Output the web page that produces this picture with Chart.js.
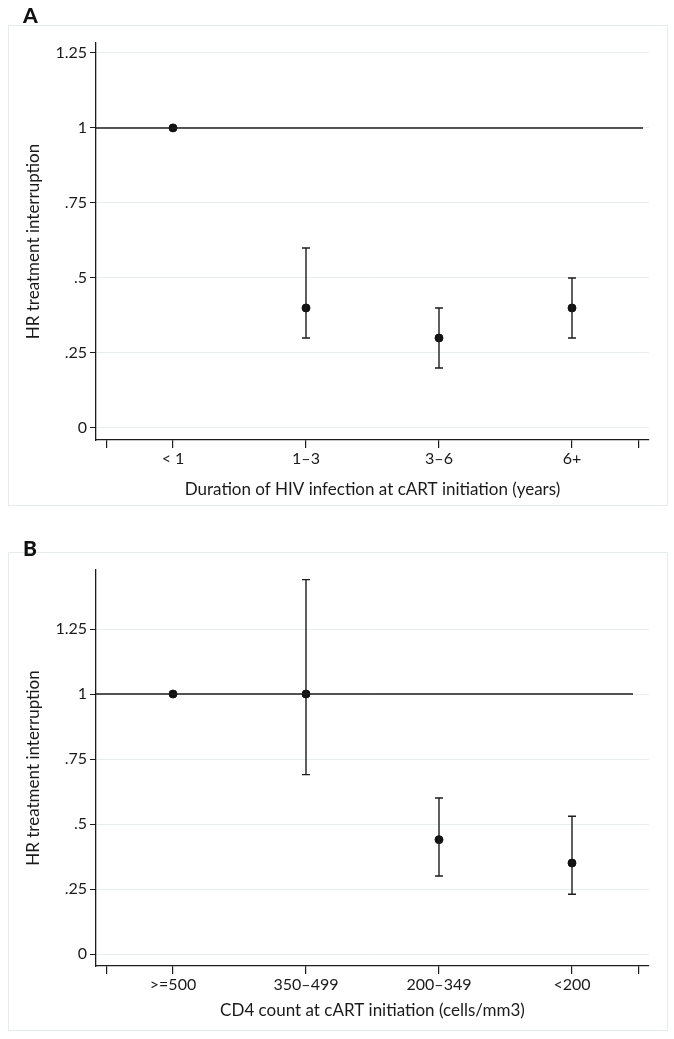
<!DOCTYPE html>
<html>
<head>
<meta charset="utf-8">
<script src="https://cdn.jsdelivr.net/npm/chart.js@4/dist/chart.umd.min.js"></script>
<style>
  body { margin: 0; background: #fff; }
  .panel { position: absolute; left: 8px; width: 658px; border: 1px solid #e6ebeb; }
  .tag { position: absolute; left: 23px; z-index: 2; font: 900 21px Lato, sans-serif; color: #111; }
  canvas { display: block; }
</style>
</head>
<body>
<div class="panel" style="top:25px;height:479px"><canvas id="chartA" width="658" height="479"></canvas></div>
<div class="panel" style="top:552px;height:477px"><canvas id="chartB" width="658" height="477"></canvas></div>
<div class="tag" style="top:2px">A</div>
<div class="tag" style="top:535px">B</div>
<script>
// panel A data
const catsA = ['< 1', '1–3', '3–6', '6+'];
const hrA = [1, 0.4, 0.3, 0.4];
const loA = [null, 0.3, 0.2, 0.3];
const hiA = [null, 0.6, 0.4, 0.5];

// panel B data
const catsB = ['>=500', '350–499', '200–349', '<200'];
const hrB = [1, 1, 0.44, 0.35];
const loB = [null, 0.69, 0.3, 0.23];
const hiB = [null, 1.44, 0.6, 0.53];

const yTicks = [0, 0.25, 0.5, 0.75, 1, 1.25];
const yTickLabels = ['0', '.25', '.5', '.75', '1', '1.25'];
const xTickPos = [0.5, 1, 2, 3, 4, 4.5];

const ink = '#1c1c1c';
const font = 'Lato, sans-serif';

// draws the confidence intervals with caps
const errorBars = {
  id: 'errorBars',
  afterDatasetsDraw(chart, args, opts) {
    const { ctx, scales: { x, y } } = chart;
    ctx.save();
    ctx.strokeStyle = ink;
    ctx.lineWidth = 1.4;
    opts.lo.forEach((lo, i) => {
      const hi = opts.hi[i];
      if (lo === null || hi === null) return;
      const px = x.getPixelForValue(i + 1);
      const pLo = y.getPixelForValue(lo);
      const pHi = y.getPixelForValue(hi);
      ctx.beginPath();
      ctx.moveTo(px, pLo); ctx.lineTo(px, pHi);
      ctx.moveTo(px - 4, pLo); ctx.lineTo(px + 4, pLo);
      ctx.moveTo(px - 4, pHi); ctx.lineTo(px + 4, pHi);
      ctx.stroke();
    });
    ctx.restore();
  }
};

function makeChart(id, cats, hr, lo, hi, xTitle, yMin, yMax, refEnd, xAxisH, titlePad) {
  const xMin = 0.421, xMax = 4.579;
  new Chart(document.getElementById(id), {
    type: 'scatter',
    data: {
      datasets: [
        {
          type: 'line',
          data: [{ x: xMin, y: 1 }, { x: refEnd, y: 1 }],
          borderColor: ink,
          borderWidth: 1.5,
          pointRadius: 0
        },
        {
          data: hr.map((v, i) => ({ x: i + 1, y: v })),
          backgroundColor: '#111',
          borderColor: '#111',
          pointRadius: 4
        }
      ]
    },
    options: {
      responsive: false,
      animation: false,
      devicePixelRatio: 1,
      events: [],
      layout: { padding: { top: 17, right: 18, left: 0, bottom: 0 } },
      plugins: {
        legend: { display: false },
        tooltip: { enabled: false },
        errorBars: { lo: lo, hi: hi }
      },
      scales: {
        x: {
          type: 'linear',
          min: xMin,
          max: xMax,
          afterBuildTicks: s => { s.ticks = xTickPos.map(v => ({ value: v })); },
          afterFit: s => { s.height = xAxisH; },
          ticks: {
            autoSkip: false,
            maxRotation: 0,
            padding: 1,
            color: '#1a1a1a',
            font: { family: font, size: 16 },
            callback: v => (Number.isInteger(v) && v >= 1 && v <= 4) ? cats[v - 1] : ''
          },
          grid: { drawOnChartArea: false, color: ink, tickLength: 8, lineWidth: 1.2 },
          border: { display: true, color: ink, width: 1.3 },
          title: {
            display: true,
            text: xTitle,
            color: '#1a1a1a',
            font: { family: font, size: 17 },
            padding: { top: 0, bottom: titlePad }
          }
        },
        y: {
          min: yMin,
          max: yMax,
          afterBuildTicks: s => { s.ticks = yTicks.map(v => ({ value: v })); },
          afterFit: s => { s.width = 87; },
          ticks: {
            padding: 3,
            color: '#1a1a1a',
            font: { family: font, size: 16 },
            callback: v => yTickLabels[yTicks.indexOf(v)]
          },
          grid: { color: '#e8eeee', tickColor: ink, tickLength: 6, lineWidth: 1 },
          border: { display: true, color: ink, width: 1.3 },
          title: {
            display: true,
            text: 'HR treatment interruption',
            color: '#1a1a1a',
            font: { family: font, size: 17 },
            padding: { top: 14, bottom: 0 }
          }
        }
      }
    },
    plugins: [errorBars]
  });
}

makeChart('chartA', catsA, hrA, loA, hiA, 'Duration of HIV infection at cART initiation (years)', -0.04, 1.283, 4.534, 65, 5);
makeChart('chartB', catsB, hrB, loB, hiB, 'CD4 count at cART initiation (cells/mm3)', -0.046, 1.477, 4.459, 64, 9);
</script>
</body>
</html>
